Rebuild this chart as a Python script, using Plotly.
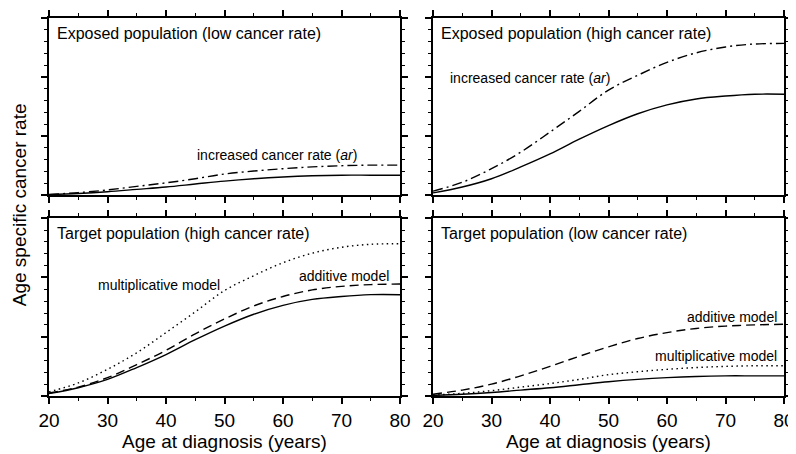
import plotly.graph_objects as go

age = [20, 25, 30, 35, 40, 45, 50, 55, 60, 65, 70, 75, 80]

# Exposed population, low cancer rate
exp_low_base = [0.01, 0.03, 0.06, 0.10, 0.14, 0.19, 0.24, 0.28, 0.31, 0.33, 0.34, 0.34, 0.34]
exp_low_ar = [0.015, 0.045, 0.09, 0.15, 0.21, 0.28, 0.36, 0.41, 0.45, 0.48, 0.50, 0.51, 0.51]
# Exposed population, high cancer rate
exp_high_base = [0.04, 0.14, 0.28, 0.48, 0.70, 0.95, 1.18, 1.38, 1.53, 1.63, 1.68, 1.71, 1.71]
exp_high_ar = [0.07, 0.22, 0.45, 0.73, 1.07, 1.42, 1.78, 2.03, 2.25, 2.41, 2.51, 2.56, 2.57]
# Target population, high cancer rate
tgt_high_base = [0.04, 0.14, 0.28, 0.48, 0.70, 0.95, 1.18, 1.38, 1.53, 1.63, 1.68, 1.71, 1.71]
tgt_high_mult = [0.07, 0.22, 0.45, 0.73, 1.07, 1.42, 1.78, 2.03, 2.25, 2.41, 2.51, 2.56, 2.57]
tgt_high_add = [0.05, 0.15, 0.31, 0.53, 0.77, 1.05, 1.30, 1.52, 1.68, 1.79, 1.85, 1.88, 1.89]
# Target population, low cancer rate
tgt_low_base = [0.01, 0.03, 0.06, 0.10, 0.14, 0.19, 0.24, 0.28, 0.31, 0.33, 0.34, 0.34, 0.34]
tgt_low_mult = [0.015, 0.045, 0.09, 0.15, 0.21, 0.28, 0.36, 0.41, 0.45, 0.48, 0.50, 0.51, 0.51]
tgt_low_add = [0.03, 0.10, 0.20, 0.34, 0.50, 0.67, 0.83, 0.97, 1.07, 1.14, 1.18, 1.20, 1.21]

x_ticks = [20, 30, 40, 50, 60, 70, 80]

FONT = "Liberation Sans, Arial, sans-serif"
LW = 1.4
SOLID = dict(color="black", width=LW)
DASHDOT = dict(color="black", width=LW, dash="10px,4px,2px,4px")
DOT = dict(color="black", width=LW, dash="1.5px,3.5px")
DASH = dict(color="black", width=LW, dash="9px,5px")

fig = go.Figure()

def add(y, line, xa, ya):
    fig.add_trace(go.Scatter(x=age, y=y, mode="lines", line=line, line_shape="spline",
                             xaxis=xa, yaxis=ya, showlegend=False, hoverinfo="skip"))

# TL: x/y ; TR: x2/y2 ; BL: x3/y3 ; BR: x4/y4
add(exp_low_base, SOLID, "x", "y")
add(exp_low_ar, DASHDOT, "x", "y")
add(exp_high_base, SOLID, "x2", "y2")
add(exp_high_ar, DASHDOT, "x2", "y2")
add(tgt_high_base, SOLID, "x3", "y3")
add(tgt_high_mult, DOT, "x3", "y3")
add(tgt_high_add, DASH, "x3", "y3")
add(tgt_low_base, SOLID, "x4", "y4")
add(tgt_low_mult, DOT, "x4", "y4")
add(tgt_low_add, DASH, "x4", "y4")

# page body has an 8px margin: figure is placed 8px right/down, so shrink it to fit the window
W, H = 788, 446
ml, mr, mt, mb = 41, 12, 9.5, 58
pw = W - ml - mr
ph = H - mt - mb
xd1 = [0, 351 / pw]
xd2 = [384 / pw, 1]
yd_bot = [0, 178 / ph]
yd_top = [201 / ph, 1]

def xax(domain, anchor, labels):
    d = dict(domain=domain, anchor=anchor, range=[20, 80], tickvals=x_ticks,
             ticktext=[str(v) for v in x_ticks], showticklabels=labels,
             ticks="outside", ticklen=6, tickwidth=1.5, tickcolor="black",
             minor=dict(dtick=5, tick0=20, ticks="outside", ticklen=3, tickwidth=1.2, tickcolor="black"),
             showline=True, linewidth=1.5, linecolor="black", mirror="ticks",
             showgrid=False, zeroline=False, automargin=False, ticklabeloverflow="allow",
             tickfont=dict(family=FONT, size=19, color="black"))
    if labels:
        d["title"] = dict(text="Age at diagnosis (years)",
                          font=dict(family=FONT, size=19, color="black"),
                          standoff=0)
    return d

def yax(domain, anchor):
    return dict(domain=domain, anchor=anchor, range=[0, 3], tickvals=[0, 1, 2, 3],
                showticklabels=False, ticks="outside", ticklen=6, tickwidth=1.5, tickcolor="black",
                minor=dict(dtick=0.2, tick0=0, ticks="outside", ticklen=3, tickwidth=1.2, tickcolor="black"),
                showline=True, linewidth=1.5, linecolor="black", mirror="ticks",
                showgrid=False, zeroline=False, automargin=False)

fig.update_layout(
    width=W, height=H,
    margin=dict(l=ml, r=mr, t=mt, b=mb, autoexpand=False),
    plot_bgcolor="white", paper_bgcolor="white",
    xaxis=xax(xd1, "y", False), yaxis=yax(yd_top, "x"),
    xaxis2=xax(xd2, "y2", False), yaxis2=yax(yd_top, "x2"),
    xaxis3=xax(xd1, "y3", True), yaxis3=yax(yd_bot, "x3"),
    xaxis4=xax(xd2, "y4", True), yaxis4=yax(yd_bot, "x4"),
)

def note(text, xref, yref, x, y, anchor="left", size=16):
    fig.add_annotation(text=text, xref=xref, yref=yref, x=x, y=y, xanchor=anchor,
                       yanchor="middle", showarrow=False, borderpad=0,
                       font=dict(family=FONT, size=size, color="black"))

note("Exposed population (low cancer rate)", "x", "y", 21.2, 2.74)
note("increased cancer rate (<i>ar</i>)", "x", "y", 72.8, 0.68, "right", 14)
note("Exposed population (high cancer rate)", "x2", "y2", 21.2, 2.74)
note("increased cancer rate (<i>ar</i>)", "x2", "y2", 22.7, 1.99, "left", 14)
note("Target population (high cancer rate)", "x3", "y3", 21.2, 2.74)
note("multiplicative model", "x3", "y3", 28.2, 1.87, "left", 14)
note("additive model", "x3", "y3", 78.3, 2.02, "right", 14)
note("Target population (low cancer rate)", "x4", "y4", 21.2, 2.74)
note("additive model", "x4", "y4", 79.0, 1.33, "right", 14)
note("multiplicative model", "x4", "y4", 79.0, 0.67, "right", 14)

fig.add_annotation(text="Age specific cancer rate", xref="paper", yref="paper",
                   x=(11 - ml) / pw, y=(388 - 197) / ph, textangle=-90,
                   xanchor="center", yanchor="middle", showarrow=False, borderpad=0,
                   font=dict(family=FONT, size=19, color="black"))

fig.write_html("out.html")
